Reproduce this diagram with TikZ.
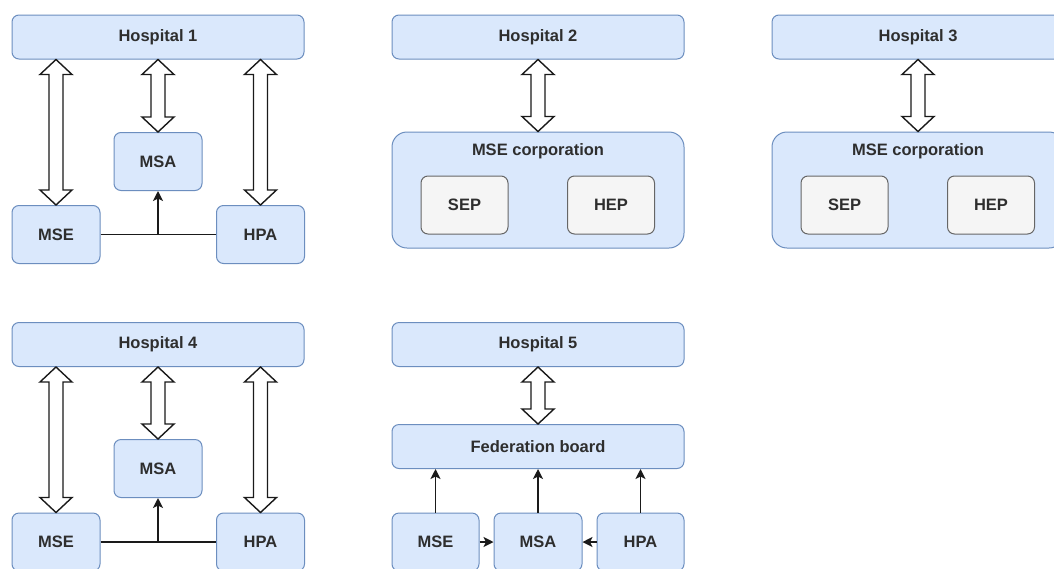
\documentclass[tikz,border=0pt]{standalone}
\usepackage{fontspec}
\setmainfont{Liberation Sans}
\usetikzlibrary{arrows.meta,calc}
\definecolor{bfill}{HTML}{DAE8FC}
\definecolor{bdraw}{HTML}{6C8EBF}
\definecolor{gfill}{HTML}{F5F5F5}
\definecolor{gdraw}{HTML}{666666}
\definecolor{txt}{HTML}{2E2E2E}
\definecolor{lin}{HTML}{1A1A1A}
\tikzset{
  box/.style={draw=bdraw, fill=bfill, rounded corners=7pt, line width=1pt, inner sep=0pt,
    text=txt, font=\bfseries\fontsize{16.5}{19}\selectfont},
  wide/.style={box, minimum width=292pt, minimum height=44pt},
  small/.style={box, minimum width=88pt, minimum height=58pt},
  corp/.style={draw=bdraw, fill=bfill, rounded corners=15pt, line width=1pt,
    minimum width=292pt, minimum height=116pt, inner sep=0pt},
  ctext/.style={text=txt, font=\bfseries\fontsize{16.5}{19}\selectfont, inner sep=0pt},
  grey/.style={box, draw=gdraw, fill=gfill, minimum width=87pt, minimum height=58pt},
  blk/.style={draw=lin, fill=white, line width=1.4pt, line join=miter},
  con/.style={draw=lin, line width=1.5pt},
  arr/.style={con, -{Stealth[length=10pt,width=10pt,inset=2.5pt]}}
}
\newcommand\dblarrow[2]{%
  \path[blk] let \p1=(#1), \p2=(#2) in
  (\x1,\y1) -- (\x1+16pt,\y1-15pt) -- (\x1+7pt,\y1-15pt) -- (\x1+7pt,\y2+15pt)
  -- (\x1+16pt,\y2+15pt) -- (\x1,\y2) -- (\x1-16pt,\y2+15pt) -- (\x1-7pt,\y2+15pt)
  -- (\x1-7pt,\y1-15pt) -- (\x1-16pt,\y1-15pt) -- cycle;}
\begin{document}
\begin{tikzpicture}[x=1pt,y=-1pt]
\useasboundingbox (0,0) rectangle (1054,568);
\clip (0,0) rectangle (1054,568);
\fill[white] (0,0) rectangle (1054,568);

% Hospital 1
\node[wide] (h1) at (158,37) {Hospital 1};
\node[small] (msa1) at (158,161.5) {MSA};
\node[small] (mse1) at (56,234.5) {MSE};
\node[small] (hpa1) at (260.5,234.5) {HPA};
\dblarrow{h1.south -| mse1.north}{mse1.north}
\dblarrow{h1.south -| msa1.north}{msa1.north}
\dblarrow{h1.south -| hpa1.north}{hpa1.north}
\draw[con] (mse1.east) -- (hpa1.west);
\draw[arr] (mse1.east -| msa1.south) -- (msa1.south);

% Hospital 2
\node[wide] (h2) at (538,37) {Hospital 2};
\node[corp] (corp2) at (538,190) {};
\node[ctext] (corp2t) at (538,151) {MSE corporation};
\node[grey] (sep2) at (464.5,205) {SEP};
\node[grey] (hep2) at (611,205) {HEP};
\dblarrow{h2.south}{corp2.north}

% Hospital 3
\node[wide] (h3) at (918,37) {Hospital 3};
\node[corp] (corp3) at (918,190) {};
\node[ctext] (corp3t) at (918,151) {MSE corporation};
\node[grey] (sep3) at (844.5,205) {SEP};
\node[grey] (hep3) at (991,205) {HEP};
\dblarrow{h3.south}{corp3.north}

% Hospital 4
\node[wide] (h4) at (158,344.5) {Hospital 4};
\node[small] (msa4) at (158,468.5) {MSA};
\node[small] (mse4) at (56,542) {MSE};
\node[small] (hpa4) at (260.5,542) {HPA};
\dblarrow{h4.south -| mse4.north}{mse4.north}
\dblarrow{h4.south -| msa4.north}{msa4.north}
\dblarrow{h4.south -| hpa4.north}{hpa4.north}
\draw[con] (mse4.east) -- (hpa4.west);
\draw[arr] (mse4.east -| msa4.south) -- (msa4.south);

% Hospital 5
\node[wide] (h5) at (538,344.5) {Hospital 5};
\node[wide] (fed) at (538,446.5) {Federation board};
\node[small, minimum width=87pt] (mse5) at (435.5,542) {MSE};
\node[small] (msa5) at (538,542) {MSA};
\node[small, minimum width=87pt] (hpa5) at (640.5,542) {HPA};
\dblarrow{h5.south}{fed.north}
\draw[arr] (mse5.north) -- (mse5.north |- fed.south);
\draw[arr] (msa5.north) -- (fed.south);
\draw[arr] (hpa5.north) -- (hpa5.north |- fed.south);
\draw[arr] (mse5.east) -- (msa5.west);
\draw[arr] (hpa5.west) -- (msa5.east);
\end{tikzpicture}
\end{document}
